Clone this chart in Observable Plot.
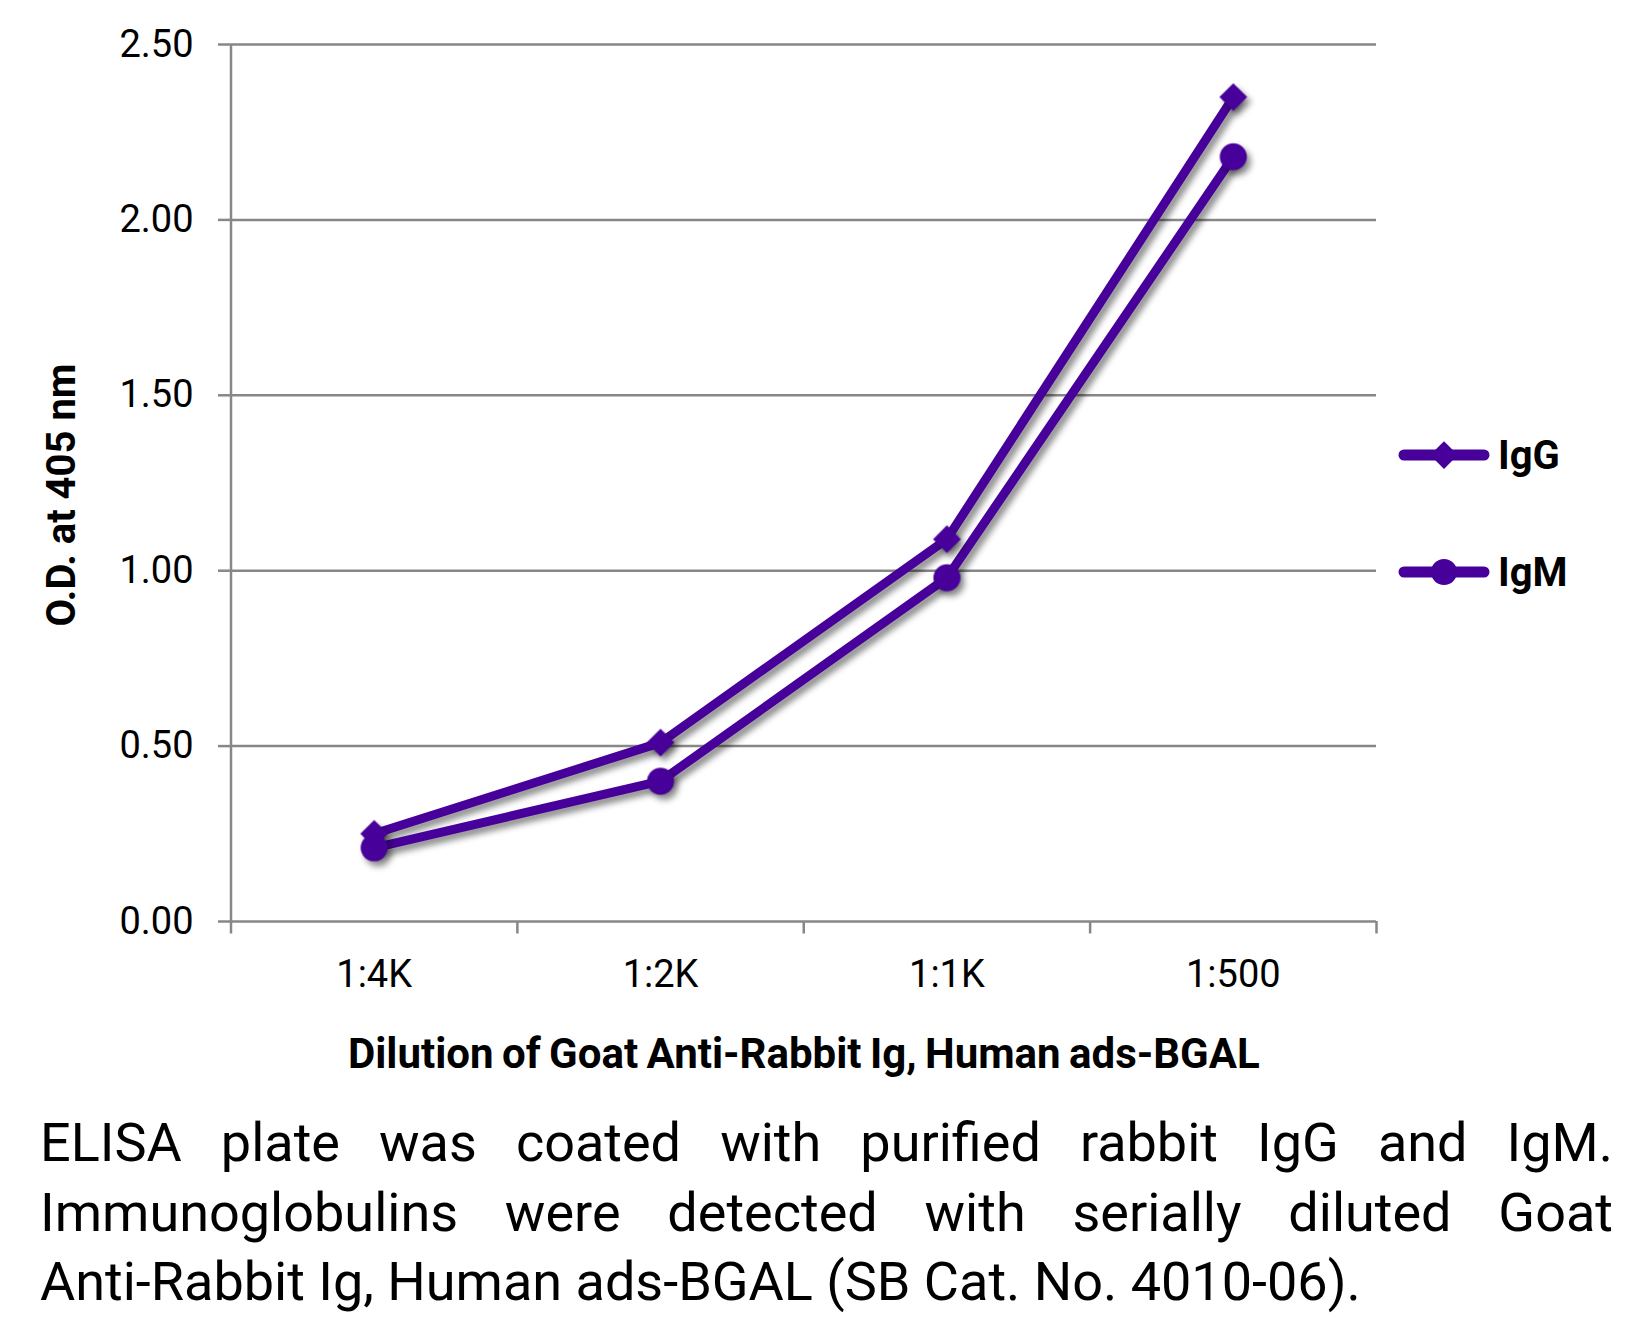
<!DOCTYPE html>
<html><head><meta charset="utf-8">
<script src="https://cdn.jsdelivr.net/npm/d3@7"></script>
<script src="https://cdn.jsdelivr.net/npm/@observablehq/plot@0.6"></script>
<style>
body{margin:0;background:#fff;font-family:Roboto, sans-serif;}
#wrap{position:relative;width:1650px;height:1320px;overflow:hidden;background:#fff;}
#chart{position:absolute;left:0;top:0;}
.legend{position:absolute;left:1396px;display:flex;align-items:center;font-family:Roboto,sans-serif;font-weight:bold;font-size:40px;color:#000;}
.legend svg{display:block;margin-right:6px;}
#caption{position:absolute;left:40px;top:1108px;width:1573px;font-family:Roboto,sans-serif;font-size:54px;line-height:69.5px;color:#000;}
#caption div{text-align:justify;text-align-last:justify;white-space:nowrap;}
#caption div.last{text-align:left;text-align-last:left;}
</style></head><body>
<div id="wrap"><div id="chart"></div><div id="legend"></div><div id="caption"></div></div>
<script>
const dilutions = ["1:4K", "1:2K", "1:1K", "1:500"];
const igG = [0.25, 0.51, 1.09, 2.35];
const igM = [0.21, 0.40, 0.98, 2.18];
const seriesNames = ["IgG", "IgM"];
const seriesSymbols = ["diamond2", "circle"];
const yTicks = [0, 0.5, 1.0, 1.5, 2.0, 2.5];
const xTitle = "Dilution of Goat Anti-Rabbit Ig, Human ads-BGAL";
const yTitle = "O.D. at 405 nm";
const captionLines = [
  "ELISA plate was coated with purified rabbit IgG and IgM.",
  "Immunoglobulins were detected with serially diluted Goat",
  "Anti-Rabbit Ig, Human ads-BGAL (SB Cat. No. 4010-06)."
];

const purple = "#48009a";
const gridColor = "#878787";

const rows = [];
dilutions.forEach((d, i) => {
  rows.push({series: "IgG", pos: i + 0.5, dil: d, od: igG[i]});
  rows.push({series: "IgM", pos: i + 0.5, dil: d, od: igM[i]});
});

const chart = Plot.plot({
  width: 1650, height: 1090,
  marginLeft: 230.5, marginRight: 274, marginTop: 44, marginBottom: 169,
  style: {fontFamily: "Roboto, sans-serif", fontSize: "38px", color: "#000", background: "white", overflow: "visible"},
  x: {domain: [0, dilutions.length], axis: null},
  y: {domain: [0, 2.5], axis: null},
  marks: [
    Plot.gridY(yTicks, {stroke: gridColor, strokeOpacity: 1, strokeWidth: 2.5}),
    Plot.axisY(yTicks, {tickSize: 12.5, tickPadding: 25, tickFormat: d => d.toFixed(2), stroke: gridColor, strokeWidth: 2.5, label: null, fontSize: 38, fill: "#000"}),
    Plot.ruleX([0], {stroke: gridColor, strokeWidth: 2.5}),
    Plot.axisX(d3.range(dilutions.length + 1), {tickSize: 12.5, tickFormat: () => "", stroke: gridColor, strokeWidth: 2.5, label: null}),
    Plot.axisX(dilutions.map((d, i) => i + 0.5), {tickSize: 0, tickPadding: 39, tickFormat: v => dilutions[Math.floor(v)], label: null, fontSize: 38, fill: "#000"}),
    Plot.text([yTitle], {frameAnchor: "left", rotate: -90, textAnchor: "middle", lineAnchor: "top", dx: -184, dy: 12, fontWeight: "bold", fontSize: 40, fill: "#000"}),
    Plot.text([xTitle], {frameAnchor: "bottom", textAnchor: "middle", lineAnchor: "top", dy: 117, fontWeight: "bold", fontSize: 42, fill: "#000"}),
    Plot.line(rows, {x: "pos", y: "od", z: "series", stroke: purple, strokeWidth: 9, strokeLinejoin: "round"}),
    Plot.dot(rows.filter(r => r.series === "IgG"), {x: "pos", y: "od", symbol: () => seriesSymbols[0], fill: purple, stroke: "none", r: 12.5}),
    Plot.dot(rows.filter(r => r.series === "IgM"), {x: "pos", y: "od", symbol: () => seriesSymbols[1], fill: purple, stroke: "none", r: 13.5})
  ]
});
chart.querySelectorAll('g[aria-label="line"], g[aria-label="dot"]').forEach(g => {
  g.style.filter = "drop-shadow(4px 5px 3px rgba(0,0,0,0.45))";
});
chart.querySelectorAll('g[aria-label="text"] text').forEach(t => {
  if (t.textContent === xTitle) { t.style.wordSpacing = "-2px"; }
});
document.getElementById("chart").appendChild(chart);

// legend
const legendTops = [455, 572];
const legend = document.getElementById("legend");
seriesNames.forEach((name, i) => {
  const row = document.createElement("div");
  row.className = "legend";
  row.style.top = (legendTops[i] - 25) + "px";
  row.style.height = "50px";
  const sw = d3.create("svg").attr("width", 96).attr("height", 50);
  sw.append("line").attr("x1", 8).attr("x2", 88).attr("y1", 25).attr("y2", 25)
    .attr("stroke", purple).attr("stroke-width", 11).attr("stroke-linecap", "round");
  const sym = i === 0 ? d3.symbolDiamond2 : d3.symbolCircle;
  const size = i === 0 ? Math.PI * 12.5 * 12.5 : Math.PI * 13 * 13;
  sw.append("path").attr("transform", "translate(48,25)").attr("d", d3.symbol(sym, size)()).attr("fill", purple);
  row.appendChild(sw.node());
  const lab = document.createElement("span");
  lab.textContent = name;
  row.appendChild(lab);
  legend.appendChild(row);
});

// caption
const cap = document.getElementById("caption");
captionLines.forEach((l, i) => {
  const d = document.createElement("div");
  d.textContent = l;
  if (i === captionLines.length - 1) d.className = "last";
  cap.appendChild(d);
});
</script>
</body></html>
